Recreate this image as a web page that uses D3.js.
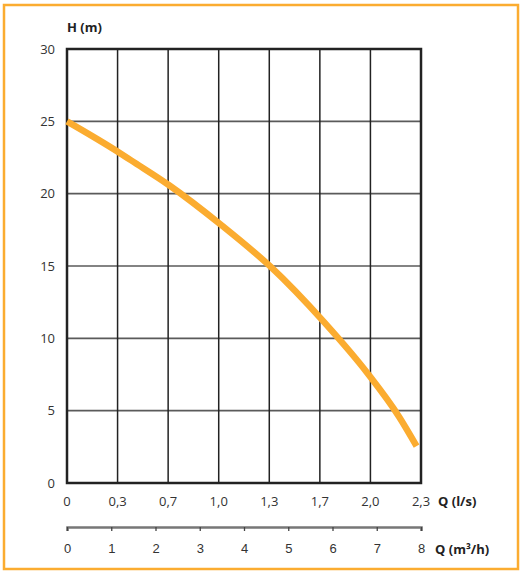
<!DOCTYPE html>
<html>
<head>
<meta charset="utf-8">
<script src="https://cdn.jsdelivr.net/npm/d3@7"></script>
<style>
  html, body { margin: 0; padding: 0; background: #fff; }
  svg { display: block; font-family: "Open Sans", "DejaVu Sans", sans-serif; }
</style>
</head>
<body>
<div id="chart"></div>
<script>
// Pump curve: head H (m) against flow Q, with l/s and m³/h scales.

const flowM3h = [0, 1.2, 1.45, 2.3, 3.5, 4.6, 5.8, 6.8, 7.5, 7.9];
const headM   = [25, 22.8, 22.3, 20.6, 17.8, 14.95, 11.15, 7.55, 4.6, 2.55];

const headTicks = [0, 5, 10, 15, 20, 25, 30];
const lsTicks = [0, 1 / 3, 2 / 3, 1, 4 / 3, 5 / 3, 2, 7 / 3];
const m3hTicks = [0, 1, 2, 3, 4, 5, 6, 7, 8];

const W = 525, H = 575;
const margin = { top: 49, right: 104, bottom: 92, left: 67 };
const w = W - margin.left - margin.right;
const h = H - margin.top - margin.bottom;
const ORANGE = '#fbac30';

const svg = d3.select('#chart').append('svg')
  .attr('width', W).attr('height', H)
  .attr('viewBox', `0 0 ${W} ${H}`);

// frame
svg.append('rect')
  .attr('x', 4).attr('y', 5).attr('width', 514).attr('height', 564)
  .attr('fill', 'none').attr('stroke', ORANGE).attr('stroke-width', 2.5);

const g = svg.append('g').attr('transform', `translate(${margin.left},${margin.top})`);

const y = d3.scaleLinear().domain([0, 30]).range([h, 0]);
const xLs = d3.scaleLinear().domain([0, 7 / 3]).range([0, w]);
const xM3 = d3.scaleLinear().domain([0, 8]).range([0, w]);

// horizontal grid
g.append('g').selectAll('line').data(headTicks.slice(1, -1)).enter().append('line')
  .attr('x1', 0).attr('x2', w)
  .attr('y1', d => y(d)).attr('y2', d => y(d))
  .attr('stroke', '#5a5a5a').attr('stroke-width', 1.6);

// vertical grid
g.append('g').selectAll('line').data(lsTicks.slice(1, -1)).enter().append('line')
  .attr('x1', d => xLs(d)).attr('x2', d => xLs(d))
  .attr('y1', 0).attr('y2', h)
  .attr('stroke', '#222').attr('stroke-width', 1.5);

// plot box
g.append('rect')
  .attr('width', w).attr('height', h)
  .attr('fill', 'none').attr('stroke', '#222').attr('stroke-width', 2.5);

// y labels
g.append('g').selectAll('text').data(headTicks).enter().append('text')
  .attr('x', -12).attr('y', d => y(d)).attr('dy', '0.35em')
  .attr('text-anchor', 'end').attr('font-size', 13).attr('fill', '#333')
  .text(d => d);

g.append('text')
  .attr('x', 0).attr('y', -17)
  .attr('font-size', 13).attr('font-weight', 'bold').attr('fill', '#222')
  .text('H (m)');

// l/s labels
const fmtLs = v => v === 0 ? '0' : d3.format('.1f')(v).replace('.', ',');
g.append('g').selectAll('text').data(lsTicks).enter().append('text')
  .attr('x', d => xLs(d)).attr('y', h + 23)
  .attr('text-anchor', 'middle').attr('font-size', 13).attr('fill', '#333')
  .text(fmtLs);

g.append('text')
  .attr('x', w + 17).attr('y', h + 23)
  .attr('font-size', 13).attr('font-weight', 'bold').attr('fill', '#222')
  .text('Q (l/s)');

// m³/h axis
const axisM3 = g.append('g').attr('transform', `translate(0,${h + 44})`)
  .call(d3.axisBottom(xM3).tickValues(m3hTicks).tickSize(4).tickPadding(13).tickSizeOuter(4));
axisM3.select('.domain').attr('stroke', '#777').attr('stroke-width', 2.5);
axisM3.selectAll('.tick line').attr('stroke', '#444').attr('stroke-width', 1.3);
axisM3.selectAll('.tick text')
  .attr('font-size', 13).attr('fill', '#333').attr('font-family', null);

g.append('text')
  .attr('x', w + 14).attr('y', h + 71)
  .attr('font-size', 13).attr('font-weight', 'bold').attr('fill', '#222')
  .text('Q (m³/h)');

// curve
const line = d3.line()
  .x((d, i) => xM3(flowM3h[i]))
  .y(d => y(d))
  .curve(d3.curveMonotoneX);

g.append('path')
  .datum(headM)
  .attr('fill', 'none').attr('stroke', ORANGE)
  .attr('stroke-width', 6.5).attr('stroke-linecap', 'butt')
  .attr('d', line);
</script>
</body>
</html>
